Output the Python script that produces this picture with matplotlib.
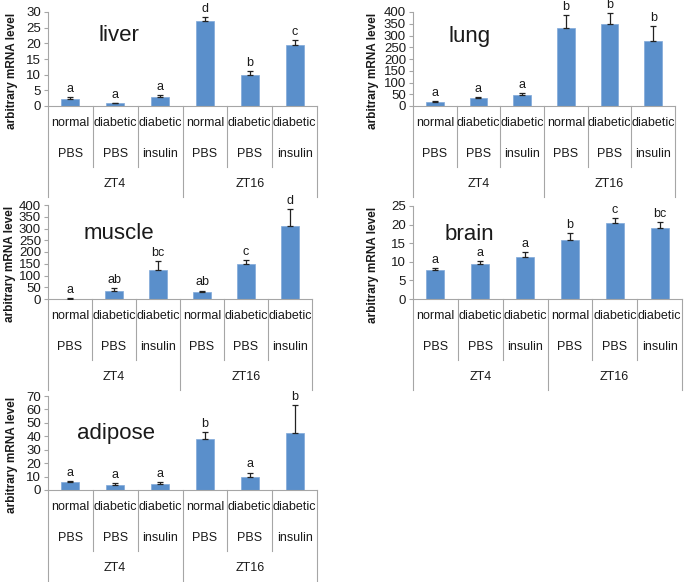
import matplotlib
matplotlib.use("Agg")
import matplotlib.pyplot as plt
from matplotlib.transforms import blended_transform_factory, ScaledTranslation

plt.rcParams['font.family'] = ['Liberation Sans', 'DejaVu Sans']

conditions = ["normal", "diabetic", "diabetic", "normal", "diabetic", "diabetic"]
treatments = ["PBS", "PBS", "insulin", "PBS", "PBS", "insulin"]
timepoints = ["ZT4", "ZT16"]

liver_vals = [2.3, 0.8, 3.0, 27.0, 9.8, 19.4]
liver_err = [0.7, 0.2, 0.5, 1.3, 1.5, 1.6]
liver_letters = ["a", "a", "a", "d", "b", "c"]
liver_ticks = [0, 5, 10, 15, 20, 25, 30]

lung_vals = [18, 33, 45, 330, 347, 277]
lung_err = [4, 5, 10, 58, 47, 63]
lung_letters = ["a", "a", "a", "b", "b", "b"]
lung_ticks = [0, 50, 100, 150, 200, 250, 300, 350, 400]

muscle_vals = [2, 35, 122, 28, 148, 310]
muscle_err = [1, 10, 38, 8, 17, 72]
muscle_letters = ["a", "ab", "bc", "ab", "c", "d"]
muscle_ticks = [0, 50, 100, 150, 200, 250, 300, 350, 400]

brain_vals = [7.7, 9.4, 11.2, 15.8, 20.4, 19.0]
brain_err = [0.7, 0.9, 1.4, 1.9, 1.3, 1.7]
brain_letters = ["a", "a", "a", "b", "c", "bc"]
brain_ticks = [0, 5, 10, 15, 20, 25]

adipose_vals = [6.0, 3.5, 4.5, 38.0, 10.0, 42.5]
adipose_err = [0.5, 1.5, 1.5, 5.0, 3.0, 20.5]
adipose_letters = ["a", "a", "a", "b", "a", "b"]
adipose_ticks = [0, 10, 20, 30, 40, 50, 60, 70]

W, H = 685, 582
DPI = 100
fig = plt.figure(figsize=(W / DPI, H / DPI), dpi=DPI)

BAR = "#5A8FCB"
GRID = "#A6A6A6"
TXT = "#1A1A1A"

# (name, vals, err, letters, ticks, left, right, top, bottom, title_pos, label_x, bottom_ext)
panels = [
    ("liver", liver_vals, liver_err, liver_letters, liver_ticks, 48, 317, 12, 106, (0.186, 0.69), 12, 91),
    ("lung", lung_vals, lung_err, lung_letters, lung_ticks, 413, 675, 12, 106, (0.134, 0.68), 373, 91),
    ("muscle", muscle_vals, muscle_err, muscle_letters, muscle_ticks, 48, 312, 205, 299, (0.133, 0.64), 10, 91),
    ("brain", brain_vals, brain_err, brain_letters, brain_ticks, 413, 682, 206, 299, (0.119, 0.63), 373, 91),
    ("adipose", adipose_vals, adipose_err, adipose_letters, adipose_ticks, 48, 317, 396, 490, (0.108, 0.54), 12, 92),
]

for (name, vals, err, letters, ticks, l, r, t, b, tpos, lx, ext) in panels:
    ax = fig.add_axes([l / W, 1 - b / H, (r - l) / W, (b - t) / H])
    x = list(range(len(vals)))
    ax.bar(x, vals, width=0.4, color=BAR, edgecolor="#80A9D9", linewidth=0.5, zorder=2)
    ax.errorbar(x, vals, yerr=[[0] * len(err), err], fmt="none", ecolor="#222222",
                elinewidth=0.9, capsize=2.5, capthick=0.9, zorder=3)
    for xi, v, e, s in zip(x, vals, err, letters):
        ax.annotate(s, (xi, v + e), xytext=(0, 1.5), textcoords="offset points",
                    ha="center", va="bottom", fontsize=9, color=TXT)
    ax.set_xlim(-0.5, len(vals) - 0.5)
    ax.set_ylim(ticks[0], ticks[-1])
    ax.set_yticks(ticks)
    ax.set_yticklabels([str(v) for v in ticks], fontsize=9.5, color=TXT)
    ax.tick_params(axis="y", direction="out", length=3, width=0.8, color=GRID, pad=2)
    ax.set_xticks([])
    for sp in ["top", "right"]:
        ax.spines[sp].set_visible(False)
    for sp in ["left", "bottom"]:
        ax.spines[sp].set_color(GRID)
        ax.spines[sp].set_linewidth(0.8)
    ax.text(tpos[0], tpos[1], name, transform=ax.transAxes, fontsize=16, ha="left",
            va="baseline", color=TXT)

    base = blended_transform_factory(ax.transData, ax.transAxes)

    def tr(dy_px):
        return base + ScaledTranslation(0, -dy_px / DPI, fig.dpi_scale_trans)

    n = len(vals)
    hpx = b - t
    for k in range(n + 1):
        xb = k - 0.5
        depth = ext if k in (0, n // 2, n) else 61
        ax.add_line(plt.Line2D([xb, xb], [0, -depth / hpx], transform=base,
                               color=GRID, lw=0.8, clip_on=False))
    for xi in x:
        ax.text(xi, 0, conditions[xi], transform=tr(17), ha="center", va="center",
                fontsize=9, color=TXT)
        ax.text(xi, 0, treatments[xi], transform=tr(48), ha="center", va="center",
                fontsize=9, color=TXT)
    for gi, tp in enumerate(timepoints):
        ax.text(1 + 3 * gi, 0, tp, transform=tr(78), ha="center", va="center",
                fontsize=9, color=TXT)

    fig.text(lx / W, 1 - ((t + b) / 2 + 12) / H, "arbitrary mRNA level", rotation=90,
             ha="center", va="center", fontsize=8.5, fontweight="bold", color=TXT)

fig.savefig("out.png", dpi=DPI)
